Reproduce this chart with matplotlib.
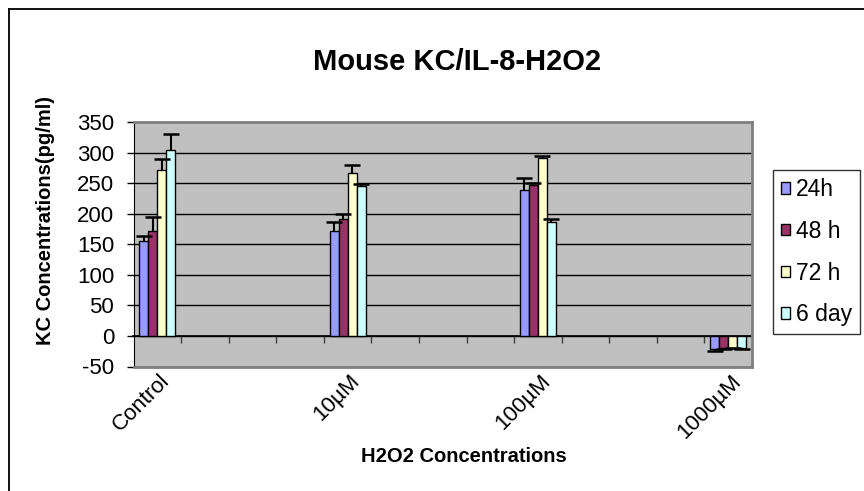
import matplotlib
matplotlib.use("Agg")
import matplotlib.pyplot as plt
import matplotlib.transforms as mtransforms
from matplotlib.lines import Line2D
import numpy as np

plt.rcParams['font.family'] = ['Liberation Sans', 'DejaVu Sans']
plt.rcParams['axes.unicode_minus'] = False

# ====================== DATA ======================
# x axis has 13 slots, data only in slots 0, 4, 8, 12
n_slots = 13
group_slots = [0, 4, 8, 12]
group_labels = ["Control", "10µM", "100µM", "1000µM"]
series_names = ["24h", "48 h", "72 h", "6 day"]
series_colors = ["#9999FF", "#993366", "#FFFFCC", "#CCFFFF"]

vals_24h = [155, 172, 239, -22]
vals_48h = [172, 191, 247, -20]
vals_72h = [272, 267, 291, -19]
vals_6day = [305, 245, 187, -20]

err_24h = [9, 14, 20, 2]
err_48h = [22, 9, 4, 1]
err_72h = [18, 12, 3, 1]
err_6day = [25, 3, 4, 1]

yticks = [-50, 0, 50, 100, 150, 200, 250, 300, 350]
# ===================================================

values = [vals_24h, vals_48h, vals_72h, vals_6day]
errors = [err_24h, err_48h, err_72h, err_6day]

fig = plt.figure(figsize=(8.64, 4.91), dpi=100)
ax = fig.add_axes([133.5 / 864, 1 - 366.5 / 491, (752 - 133.5) / 864, (366.5 - 122) / 491])
ax.set_facecolor("#C0C0C0")

bar_w = 0.19
x = np.array(group_slots, dtype=float)
for i, (vals, errs, col, name) in enumerate(zip(values, errors, series_colors, series_names)):
    pos = x + (i - 1.5) * bar_w
    ax.bar(pos, vals, width=bar_w, color=col, edgecolor="black", linewidth=1.0,
           label=name, zorder=3)
    # Excel style: error bar only away from zero, cap only at the tip
    lower = [e if v < 0 else 0 for v, e in zip(vals, errs)]
    upper = [e if v >= 0 else 0 for v, e in zip(vals, errs)]
    ax.errorbar(pos, vals, yerr=[lower, upper], fmt="none", ecolor="black",
                elinewidth=1.5, capsize=0, zorder=4)
    tips = [v + e if v >= 0 else v - e for v, e in zip(vals, errs)]
    ax.plot(pos, tips, linestyle="none", marker="_", markersize=12,
            markeredgewidth=1.8, color="black", zorder=4)

ax.set_xlim(-0.5, n_slots - 0.5)
ax.set_ylim(-50, 350)
ax.set_yticks(yticks)
ax.yaxis.grid(True, color="black", linewidth=1.0)
ax.set_axisbelow(True)
ax.tick_params(axis="y", direction="out", length=5, width=1, labelsize=16, pad=9)

# category labels at the bottom of the plot
ax.set_xticks(x)
ax.set_xticklabels([])
ax.tick_params(axis="x", length=0)
offset = mtransforms.ScaledTranslation(2 / 100, -4 / 100, fig.dpi_scale_trans)
lab_trans = mtransforms.blended_transform_factory(ax.transData, ax.transAxes) + offset
for xc, lab in zip(x, group_labels):
    ax.text(xc, 0, lab, transform=lab_trans, rotation=45, rotation_mode="anchor",
            ha="right", va="top", fontsize=16)

for side in ["top", "right", "bottom"]:
    ax.spines[side].set_color("#808080")
    ax.spines[side].set_linewidth(2)
ax.spines["left"].set_color("black")

# category axis drawn at y = 0 with ticks between slots
sec = ax.secondary_xaxis(50 / 400)
sec.set_xticks(np.arange(0.5, n_slots - 0.5, 1.0))
sec.set_xticklabels([])
sec.tick_params(direction="out", length=5, width=1, color="#404040")
sec.spines["bottom"].set_color("black")
sec.spines["bottom"].set_linewidth(1.2)

fig.text(457 / 864, 1 - 62 / 491, "Mouse KC/IL-8-H2O2", ha="center", va="center",
         fontsize=21, fontweight="bold")
fig.text(464 / 864, 1 - 456 / 491, "H2O2 Concentrations", ha="center", va="center",
         fontsize=14.5, fontweight="bold")
fig.text(46 / 864, 1 - 221 / 491, "KC Concentrations(pg/ml)", ha="center", va="center",
         rotation=90, fontsize=14.5, fontweight="bold")

leg = fig.legend(loc="upper left", bbox_to_anchor=(773 / 864, 1 - 170 / 491),
                 fontsize=16.5, frameon=True, fancybox=False, edgecolor="black",
                 handlelength=0.4, handleheight=0.4, handletextpad=0.25,
                 labelspacing=0.82, borderpad=0.35, borderaxespad=0)
leg.get_frame().set_linewidth(1.0)

# outer chart border (top and left visible)
fig.add_artist(Line2D([9 / 864, 9 / 864], [0, 1 - 9 / 491], color="black", linewidth=1.3))
fig.add_artist(Line2D([9 / 864, 1], [1 - 9 / 491, 1 - 9 / 491], color="black", linewidth=1.3))

fig.savefig("out.png", dpi=100)
